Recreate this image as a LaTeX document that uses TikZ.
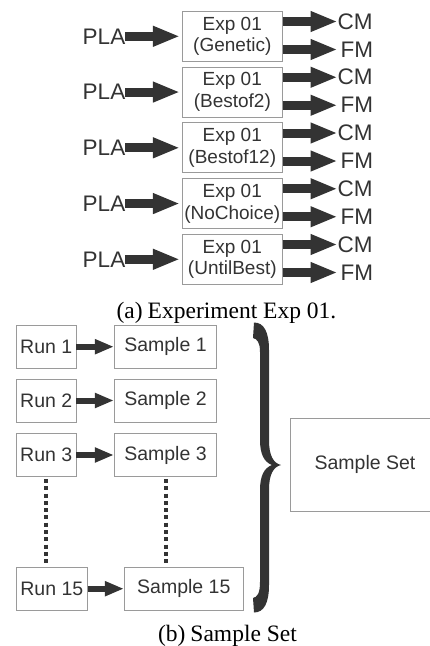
\documentclass[tikz,border=0pt]{standalone}
\usepackage{fontspec}
\setmainfont{Liberation Sans}
\newfontfamily\capfont{Liberation Serif}
\usetikzlibrary{arrows.meta}
\definecolor{ink}{HTML}{333333}
\definecolor{frame}{HTML}{9A9A9A}
\tikzset{
  expbox/.style={draw=frame, line width=0.8pt, minimum width=100pt, minimum height=50pt,
    inner sep=0pt, align=center, text=ink, font=\fontsize{19}{21.7}\selectfont},
  runbox/.style={draw=frame, line width=0.8pt, minimum height=43pt, inner sep=0pt,
    text=ink, font=\fontsize{19.5}{22}\selectfont},
  lbl/.style={text=ink, inner sep=0pt, font=\fontsize{22.5}{26}\selectfont},
  fat/.style={draw=ink, line width=9pt, -{Triangle[length=27pt,width=19pt]}},
  slim/.style={draw=ink, line width=6pt, -{Triangle[length=19pt,width=14pt]}},
  dots/.style={draw=ink, line width=4pt, dash pattern=on 4pt off 3.3pt},
  subcap/.style={inner sep=0pt, anchor=base, text=black, font=\capfont\fontsize{23.5}{26}\selectfont}
}
\begin{document}
\begin{tikzpicture}[x=1pt, y=-1pt]
  \clip (0,0) rectangle (430,646);
  % (a) experiment
  \draw
    (104,36.3) node[lbl] (p1){PLA}
    (104,92.05) node[lbl] (p2){PLA}
    (104,147.8) node[lbl] (p3){PLA}
    (104,203.55) node[lbl] (p4){PLA}
    (104,259.3) node[lbl] (p5){PLA}
    (232.3,36.3) node[expbox] (e1){Exp 01\\(Genetic)}
    (232.3,92.05) node[expbox] (e2){Exp 01\\(Bestof2)}
    (232.3,147.8) node[expbox] (e3){Exp 01\\(Bestof12)}
    (232.3,203.55) node[expbox] (e4){Exp 01\\(NoChoice)}
    (232.3,259.3) node[expbox] (e5){Exp 01\\(UntilBest)}
    (355.2,21.5) node[lbl] (c1){CM}
    (355.2,77.25) node[lbl] (c2){CM}
    (355.2,133) node[lbl] (c3){CM}
    (355.2,188.75) node[lbl] (c4){CM}
    (355.2,244.5) node[lbl] (c5){CM}
    (356.8,49.5) node[lbl] (f1){FM}
    (356.8,105.25) node[lbl] (f2){FM}
    (356.8,161) node[lbl] (f3){FM}
    (356.8,216.75) node[lbl] (f4){FM}
    (356.8,272.5) node[lbl] (f5){FM};
  \begin{scope}[fat]
    \draw[shorten >=2pt] (p1) to (e1);
    \draw[shorten >=2pt] (p2) to (e2);
    \draw[shorten >=2pt] (p3) to (e3);
    \draw[shorten >=2pt] (p4) to (e4);
    \draw[shorten >=2pt] (p5) to (e5);
    \draw (e1.east |- c1) to (c1.west);
    \draw (e2.east |- c2) to (c2.west);
    \draw (e3.east |- c3) to (c3.west);
    \draw (e4.east |- c4) to (c4.west);
    \draw (e5.east |- c5) to (c5.west);
    \draw (e1.east |- f1) to (c1.west |- f1);
    \draw (e2.east |- f2) to (c2.west |- f2);
    \draw (e3.east |- f3) to (c3.west |- f3);
    \draw (e4.east |- f4) to (c4.west |- f4);
    \draw (e5.east |- f5) to (c5.west |- f5);
  \end{scope}
  \node[subcap] (capa) at (226.5,318) {(a)\hspace{5pt}Experiment Exp 01.};
  % (b) sample set
  \draw
    (46.2,346.7) node[runbox, minimum width=59.7pt] (r1){Run 1}
    (46.2,400.5) node[runbox, minimum width=59.7pt] (r2){Run 2}
    (46.2,455) node[runbox, minimum width=59.7pt] (r3){Run 3}
    (51.8,588.7) node[runbox, minimum width=71pt] (r15){Run 15}
    (165.5,346.7) node[runbox, minimum width=102.4pt] (s1){Sample 1}
    (165.5,400.5) node[runbox, minimum width=102.4pt] (s2){Sample 2}
    (165.5,455) node[runbox, minimum width=102.4pt] (s3){Sample 3}
    (183.8,588.7) node[runbox, minimum width=119pt] (s15){Sample 15}
    (365,464.5) node[runbox, minimum width=150pt, minimum height=93pt] (set){Sample Set};
  \begin{scope}[slim]
    \draw (r1) to (s1);
    \draw (r2) to (s2);
    \draw (r3) to (s3);
    \draw (r15) to (s15);
  \end{scope}
  \draw[dots, shorten <=2pt, shorten >=3pt] (r3.south) -- (r3.south |- r15.north);
  \draw[dots, shorten <=2pt, shorten >=3pt] (s3.south) -- (s3.south |- s15.north);
  % the brace
  \fill[ink] (254,322.5) .. controls (264,322.5) and (269,332) .. (269,350)
    -- (269,440) .. controls (269,455) and (273,463) .. (281,465)
    .. controls (273,467) and (269,475) .. (269,490)
    -- (269,585) .. controls (269,603) and (264,612.5) .. (254,612.5)
    -- (253,598) .. controls (257,597) and (260,594) .. (260,582)
    -- (260,490) .. controls (260,476) and (264,468) .. (272,465)
    .. controls (264,462) and (260,454) .. (260,440)
    -- (260,352) .. controls (260,342) and (257,339) .. (253,338) -- cycle;
  \node[subcap] (capb) at (227.5,641) {(b)\hspace{5pt}Sample Set};
\end{tikzpicture}
\end{document}
